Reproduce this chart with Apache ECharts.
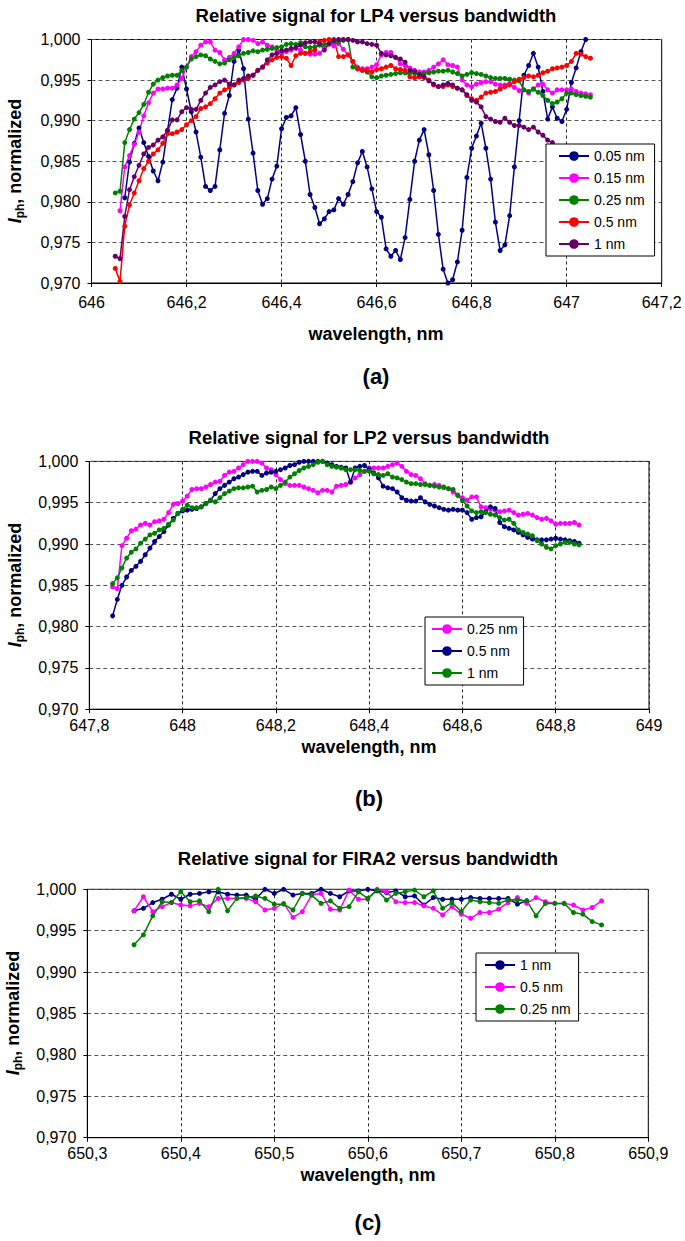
<!DOCTYPE html>
<html><head><meta charset="utf-8">
<script src="https://cdn.jsdelivr.net/npm/echarts@6/dist/echarts.min.js"></script>
<style>html,body{margin:0;padding:0;background:#fff}#c{width:685px;height:1241px}</style>
</head><body><div id="c"></div>
<script>
// ---------- wavelength grids (nm) ----------
const wlA = [646.05,646.06,646.07,646.08,646.09,646.10,646.11,646.12,646.13,646.14,646.15,646.16,646.17,646.18,646.19,646.20,646.21,646.22,646.23,646.24,646.25,646.26,646.27,646.28,646.29,646.30,646.31,646.32,646.33,646.34,646.35,646.36,646.37,646.38,646.39,646.40,646.41,646.42,646.43,646.44,646.45,646.46,646.47,646.48,646.49,646.50,646.51,646.52,646.53,646.54,646.55,646.56,646.57,646.58,646.59,646.60,646.61,646.62,646.63,646.64,646.65,646.66,646.67,646.68,646.69,646.70,646.71,646.72,646.73,646.74,646.75,646.76,646.77,646.78,646.79,646.80,646.81,646.82,646.83,646.84,646.85,646.86,646.87,646.88,646.89,646.90,646.91,646.92,646.93,646.94,646.95,646.96,646.97,646.98,646.99,647.00,647.01,647.02,647.03,647.04,647.05];
const wlB = [647.85,647.86,647.87,647.88,647.89,647.90,647.91,647.92,647.93,647.94,647.95,647.96,647.97,647.98,647.99,648.00,648.01,648.02,648.03,648.04,648.05,648.06,648.07,648.08,648.09,648.10,648.11,648.12,648.13,648.14,648.15,648.16,648.17,648.18,648.19,648.20,648.21,648.22,648.23,648.24,648.25,648.26,648.27,648.28,648.29,648.30,648.31,648.32,648.33,648.34,648.35,648.36,648.37,648.38,648.39,648.40,648.41,648.42,648.43,648.44,648.45,648.46,648.47,648.48,648.49,648.50,648.51,648.52,648.53,648.54,648.55,648.56,648.57,648.58,648.59,648.60,648.61,648.62,648.63,648.64,648.65,648.66,648.67,648.68,648.69,648.70,648.71,648.72,648.73,648.74,648.75,648.76,648.77,648.78,648.79,648.80,648.81,648.82,648.83,648.84,648.85];
const wlC = [650.35,650.36,650.37,650.38,650.39,650.40,650.41,650.42,650.43,650.44,650.45,650.46,650.47,650.48,650.49,650.50,650.51,650.52,650.53,650.54,650.55,650.56,650.57,650.58,650.59,650.60,650.61,650.62,650.63,650.64,650.65,650.66,650.67,650.68,650.69,650.70,650.71,650.72,650.73,650.74,650.75,650.76,650.77,650.78,650.79,650.80,650.81,650.82,650.83,650.84,650.85];

// ---------- panel (a): LP4 ----------
// first index into wlA for each series
const a005Start = 2, a015Start = 1, a025Start = 0, a05Start = 0, a1Start = 0;
const a005 = [0.9805,0.9849,0.9872,0.9891,0.9873,0.9856,0.9838,0.9826,0.9849,0.9888,
0.9926,0.9940,0.9966,0.9939,0.9911,0.9886,0.9855,0.9819,0.9814,0.9819,
0.9864,0.9909,0.9931,0.9973,0.9987,0.9964,0.9902,0.9860,0.9814,0.9797,
0.9804,0.9828,0.9844,0.9890,0.9904,0.9906,0.9916,0.9883,0.9850,0.9809,
0.9793,0.9773,0.9779,0.9788,0.9790,0.9804,0.9797,0.9809,0.9825,0.9848,
0.9862,0.9843,0.9816,0.9788,0.9781,0.9742,0.9733,0.9740,0.9729,0.9756,
0.9803,0.9850,0.9876,0.9889,0.9858,0.9814,0.9760,0.9717,0.9700,0.9704,
0.9726,0.9765,0.9830,0.9866,0.9881,0.9897,0.9866,0.9828,0.9775,0.9740,
0.9747,0.9783,0.9843,0.9900,0.9956,0.9968,0.9983,0.9966,0.9936,0.9902,
0.9917,0.9903,0.9899,0.9914,0.9947,0.9965,0.9985,1.0000];
const a015 = [0.9789,0.9843,0.9857,0.9871,0.9886,0.9906,0.9922,0.9934,0.9939,0.9939,
0.9940,0.9940,0.9944,0.9952,0.9966,0.9979,0.9985,0.9993,0.9997,0.9997,
0.9987,0.9984,0.9975,0.9978,0.9983,0.9991,1.0000,1.0000,0.9999,0.9995,
0.9997,0.9993,0.9991,0.9987,0.9983,0.9985,0.9987,0.9989,0.9987,0.9983,
0.9982,0.9982,0.9983,0.9989,0.9994,0.9992,0.9995,0.9988,0.9981,0.9973,
0.9966,0.9964,0.9964,0.9966,0.9969,0.9981,0.9984,0.9984,0.9978,0.9970,
0.9968,0.9965,0.9962,0.9960,0.9960,0.9962,0.9966,0.9970,0.9975,0.9969,
0.9968,0.9966,0.9950,0.9944,0.9942,0.9945,0.9947,0.9948,0.9948,0.9945,
0.9944,0.9944,0.9946,0.9941,0.9937,0.9938,0.9934,0.9939,0.9944,0.9945,
0.9938,0.9934,0.9938,0.9938,0.9938,0.9939,0.9936,0.9934,0.9933,0.9932];
const a025 = [0.9811,0.9813,0.9873,0.9889,0.9902,0.9910,0.9920,0.9935,0.9945,0.9950,
0.9953,0.9955,0.9956,0.9956,0.9962,0.9966,0.9976,0.9979,0.9981,0.9980,
0.9976,0.9973,0.9970,0.9971,0.9975,0.9978,0.9980,0.9983,0.9984,0.9986,
0.9985,0.9987,0.9988,0.9989,0.9990,0.9991,0.9994,0.9995,0.9994,0.9996,
0.9991,0.9990,0.9991,0.9993,0.9994,0.9995,0.9997,0.9997,0.9999,1.0000,
0.9966,0.9964,0.9962,0.9960,0.9954,0.9953,0.9955,0.9956,0.9957,0.9958,
0.9959,0.9959,0.9959,0.9958,0.9957,0.9958,0.9959,0.9960,0.9961,0.9961,
0.9962,0.9960,0.9958,0.9955,0.9957,0.9959,0.9958,0.9957,0.9955,0.9953,
0.9952,0.9952,0.9952,0.9951,0.9950,0.9949,0.9938,0.9936,0.9939,0.9935,
0.9931,0.9925,0.9921,0.9923,0.9927,0.9934,0.9934,0.9932,0.9931,0.9930,0.9929];
const a05 = [0.9718,0.9702,0.9770,0.9796,0.9811,0.9826,0.9841,0.9850,0.9859,0.9864,
0.9872,0.9884,0.9884,0.9886,0.9889,0.9895,0.9900,0.9905,0.9915,0.9917,
0.9921,0.9927,0.9934,0.9938,0.9941,0.9944,0.9947,0.9950,0.9952,0.9956,
0.9962,0.9966,0.9971,0.9975,0.9978,0.9979,0.9977,0.9968,0.9980,0.9983,
0.9983,0.9985,0.9987,0.9997,0.9999,1.0000,1.0000,0.9979,0.9979,0.9981,
0.9973,0.9964,0.9962,0.9962,0.9960,0.9963,0.9964,0.9966,0.9968,0.9964,
0.9963,0.9962,0.9954,0.9953,0.9954,0.9953,0.9950,0.9944,0.9942,0.9942,
0.9944,0.9942,0.9940,0.9938,0.9931,0.9927,0.9925,0.9929,0.9934,0.9935,
0.9936,0.9939,0.9942,0.9944,0.9948,0.9951,0.9953,0.9955,0.9954,0.9956,
0.9959,0.9961,0.9964,0.9965,0.9966,0.9968,0.9973,0.9983,0.9982,0.9979,0.9977];
const a1 = [0.9733,0.9730,0.9782,0.9815,0.9831,0.9845,0.9859,0.9867,0.9870,0.9876,
0.9880,0.9888,0.9901,0.9901,0.9911,0.9916,0.9914,0.9914,0.9925,0.9934,
0.9941,0.9944,0.9948,0.9950,0.9945,0.9944,0.9950,0.9952,0.9955,0.9956,
0.9962,0.9966,0.9975,0.9981,0.9983,0.9986,0.9987,0.9989,0.9990,0.9993,
0.9996,0.9997,0.9997,0.9995,0.9987,0.9995,0.9999,1.0000,1.0000,1.0000,
0.9999,0.9997,0.9997,0.9995,0.9994,0.9993,0.9983,0.9981,0.9980,0.9978,
0.9976,0.9972,0.9962,0.9961,0.9957,0.9954,0.9949,0.9945,0.9942,0.9944,
0.9946,0.9944,0.9940,0.9938,0.9932,0.9925,0.9923,0.9917,0.9905,0.9902,
0.9899,0.9898,0.9903,0.9898,0.9894,0.9894,0.9892,0.9889,0.9892,0.9886,
0.9882,0.9876,0.9873];

// ---------- panel (b): LP2 ----------
const b025 = [0.9848,0.9846,0.9898,0.9907,0.9916,0.9918,0.9923,0.9925,0.9923,0.9927,
0.9928,0.9930,0.9938,0.9948,0.9949,0.9952,0.9958,0.9966,0.9967,0.9967,
0.9969,0.9972,0.9975,0.9976,0.9983,0.9987,0.9988,0.9992,0.9996,1.0000,
1.0000,1.0000,0.9998,0.9992,0.9990,0.9984,0.9978,0.9973,0.9971,0.9971,
0.9971,0.9969,0.9967,0.9965,0.9962,0.9965,0.9965,0.9963,0.9970,0.9971,
0.9972,0.9975,0.9980,0.9984,0.9988,0.9992,0.9992,0.9992,0.9992,0.9994,
0.9996,0.9998,0.9994,0.9988,0.9984,0.9983,0.9979,0.9973,0.9971,0.9972,
0.9971,0.9968,0.9967,0.9963,0.9959,0.9956,0.9953,0.9957,0.9957,0.9945,
0.9944,0.9942,0.9941,0.9939,0.9940,0.9941,0.9938,0.9935,0.9936,0.9937,
0.9935,0.9932,0.9930,0.9931,0.9928,0.9924,0.9925,0.9925,0.9925,0.9926,0.9923];
const b05 = [0.9813,0.9833,0.9850,0.9860,0.9868,0.9873,0.9879,0.9887,0.9895,0.9903,
0.9909,0.9915,0.9923,0.9931,0.9937,0.9940,0.9941,0.9942,0.9943,0.9945,
0.9949,0.9953,0.9961,0.9967,0.9971,0.9975,0.9979,0.9981,0.9984,0.9987,
0.9988,0.9988,0.9983,0.9986,0.9987,0.9988,0.9990,0.9992,0.9995,0.9996,
0.9999,1.0000,1.0000,1.0000,1.0000,1.0000,0.9998,0.9996,0.9994,0.9993,
0.9992,0.9975,0.9992,0.9994,0.9995,0.9991,0.9986,0.9980,0.9970,0.9968,
0.9967,0.9963,0.9956,0.9953,0.9952,0.9952,0.9956,0.9951,0.9948,0.9946,
0.9944,0.9942,0.9941,0.9942,0.9941,0.9941,0.9938,0.9930,0.9932,0.9933,
0.9939,0.9945,0.9943,0.9926,0.9921,0.9919,0.9917,0.9914,0.9911,0.9908,
0.9906,0.9905,0.9905,0.9905,0.9906,0.9907,0.9906,0.9905,0.9904,0.9903,0.9901];
const b1 = [0.9852,0.9859,0.9871,0.9883,0.9890,0.9894,0.9901,0.9906,0.9911,0.9913,
0.9917,0.9919,0.9924,0.9929,0.9937,0.9942,0.9947,0.9944,0.9944,0.9945,
0.9949,0.9953,0.9951,0.9956,0.9961,0.9964,0.9967,0.9968,0.9968,0.9969,
0.9970,0.9963,0.9965,0.9966,0.9969,0.9967,0.9971,0.9975,0.9981,0.9985,
0.9989,0.9992,0.9994,0.9996,0.9999,1.0000,0.9996,0.9994,0.9993,0.9992,
0.9990,0.9990,0.9990,0.9989,0.9988,0.9988,0.9985,0.9984,0.9983,0.9985,
0.9981,0.9980,0.9978,0.9975,0.9973,0.9973,0.9972,0.9972,0.9971,0.9970,
0.9969,0.9969,0.9967,0.9966,0.9959,0.9953,0.9946,0.9940,0.9938,0.9939,
0.9938,0.9936,0.9935,0.9932,0.9929,0.9930,0.9925,0.9917,0.9914,0.9912,
0.9910,0.9904,0.9900,0.9896,0.9894,0.9898,0.9900,0.9902,0.9902,0.9900,0.9899];

// ---------- panel (c): FIRA2 ----------
const c1 = [0.9974,0.9977,0.9984,0.9988,0.9994,0.9988,0.9994,0.9995,0.9997,0.9997,
0.9994,0.9993,0.9993,0.9988,1.0000,0.9995,1.0000,0.9993,0.9995,0.9995,
1.0000,0.9995,0.9991,0.9998,0.9998,1.0000,0.9998,0.9996,0.9998,0.9991,
0.9992,0.9981,0.9990,0.9988,0.9988,0.9988,0.9990,0.9989,0.9989,0.9989,
0.9989,0.9982,0.9986];
const c05 = [0.9974,0.9991,0.9973,0.9979,0.9984,0.9981,0.9980,0.9983,0.9979,0.9989,
0.9989,0.9989,0.9989,0.9985,0.9975,0.9977,0.9983,0.9966,0.9973,0.9993,
0.9995,0.9976,0.9975,0.9999,0.9988,0.9988,1.0000,0.9997,0.9985,0.9984,
0.9984,0.9980,0.9977,0.9969,0.9979,0.9970,0.9965,0.9972,0.9972,0.9976,
0.9984,0.9990,0.9983,0.9990,0.9985,0.9983,0.9983,0.9981,0.9975,0.9978,0.9986];
const c025 = [0.9933,0.9945,0.9968,0.9985,0.9984,0.9997,0.9985,0.9986,0.9973,1.0000,
0.9974,0.9989,0.9990,0.9992,0.9989,0.9982,0.9982,0.9975,0.9995,0.9993,
0.9983,0.9986,0.9977,0.9979,0.9997,0.9989,0.9999,0.9987,0.9995,0.9997,
0.9999,0.9991,0.9998,0.9977,0.9984,0.9973,0.9987,0.9985,0.9984,0.9983,
0.9987,0.9987,0.9986,0.9968,0.9983,0.9983,0.9983,0.9972,0.9970,0.9961,0.9957];

// ---------- text ----------
const titles = ['Relative signal for LP4 versus bandwidth','Relative signal for LP2 versus bandwidth','Relative signal for FIRA2 versus bandwidth'];
const panelTags = ['(a)','(b)','(c)'];
const xName = 'wavelength, nm';
const legA = ['0.05 nm','0.15 nm','0.25 nm','0.5 nm','1 nm'];
const legB = ['0.25 nm','0.5 nm','1 nm'];
const legC = ['1 nm','0.5 nm','0.25 nm'];

// ---------- build ----------
const NAVY='#000080', MAG='#ff00ff', GRN='#008000', RED='#ff0000', PUR='#660066';
const FONT = '"Liberation Sans", Arial, sans-serif';
const pairs = (wl, vals, start) => vals.map((v, i) => [wl[start + i], v]);

function line(name, gi, color, data) {
  return {type:'line', name, xAxisIndex:gi, yAxisIndex:gi, data,
    symbol:'circle', symbolSize:5, showSymbol:true,
    lineStyle:{color, width:1.5}, itemStyle:{color, borderWidth:0},
    emphasis:{disabled:true}, animation:false};
}
const fmtX = v => { const r = Math.round(v*10)/10; return Number.isInteger(r) ? String(r) : r.toFixed(1).replace('.', ','); };
const fmtY = v => v.toFixed(3).replace('.', ',');
function xAx(gi, min, max, interval, margin) {
  return {type:'value', gridIndex:gi, min, max, interval,
    axisLine:{show:true, onZero:false, lineStyle:{color:'#000', width:1}},
    axisTick:{show:true, inside:false, length:4, lineStyle:{color:'#000'}},
    axisLabel:{color:'#000', fontSize:16, fontFamily:FONT, margin, formatter:fmtX, showMinLabel:true, showMaxLabel:true},
    splitLine:{show:true, lineStyle:{color:'#222', type:[3,3], width:1}}};
}
function yAx(gi) {
  return {type:'value', gridIndex:gi, min:0.97, max:1.0, interval:0.005,
    axisLine:{show:true, onZero:false, lineStyle:{color:'#000', width:1}},
    axisTick:{show:true, inside:false, length:4, lineStyle:{color:'#000'}},
    axisLabel:{color:'#000', fontSize:16, fontFamily:FONT, margin:11, formatter:fmtY, showMinLabel:true, showMaxLabel:true},
    splitLine:{show:true, lineStyle:{color:'#555', type:[4,3], width:1}}};
}
function legend(gi, names, left, top, pad) {
  return {show:true, orient:'vertical', left, top, padding:pad,
    data: names.map(n => gi + ':' + n),
    formatter: n => n.split(':')[1],
    itemWidth:30, itemHeight:12, itemGap:8,
    textStyle:{color:'#000', fontSize:14, fontFamily:FONT},
    backgroundColor:'#fff', borderColor:'#000', borderWidth:1, borderRadius:0,
    selectedMode:false};
}
function txt(x, y, text, size, weight) {
  return {type:'text', x, y, silent:true, style:{text, x:0, y:0, align:'center', verticalAlign:'middle',
    font: (weight||'bold') + ' ' + size + 'px ' + FONT, fill:'#000'}};
}
function yName(x, y) {
  return {type:'text', x, y, rotation:Math.PI/2, silent:true,
    style:{text:'{i|I}{s|ph}{n|, normalized}', x:0, y:0, align:'center', verticalAlign:'middle', fill:'#000',
      rich:{i:{fontFamily:FONT, fontSize:18, fontWeight:'bold', fontStyle:'italic', lineHeight:22},
            s:{fontFamily:FONT, fontSize:12, fontWeight:'bold', verticalAlign:'bottom', lineHeight:22},
            n:{fontFamily:FONT, fontSize:18, fontWeight:'bold', lineHeight:22}}}};
}

const series = [
  line('0:0.05 nm', 0, NAVY, pairs(wlA, a005, a005Start)),
  line('0:0.15 nm', 0, MAG, pairs(wlA, a015, a015Start)),
  line('0:0.25 nm', 0, GRN, pairs(wlA, a025, a025Start)),
  line('0:0.5 nm', 0, RED, pairs(wlA, a05, a05Start)),
  line('0:1 nm', 0, PUR, pairs(wlA, a1, a1Start)),
  line('1:0.25 nm', 1, MAG, pairs(wlB, b025, 0)),
  line('1:0.5 nm', 1, NAVY, pairs(wlB, b05, 0)),
  line('1:1 nm', 1, GRN, pairs(wlB, b1, 0)),
  line('2:1 nm', 2, NAVY, pairs(wlC, c1, 0)),
  line('2:0.5 nm', 2, MAG, pairs(wlC, c05, 0)),
  line('2:0.25 nm', 2, GRN, pairs(wlC, c025, 0))
];

const chart = echarts.init(document.getElementById('c'), null, {renderer:'svg', width:685, height:1241});
chart.setOption({
  animation:false,
  backgroundColor:'#fff',
  grid:[
    {left:91.5, top:39.5, width:570.2, height:243.5, show:true, borderColor:'#000', borderWidth:1, backgroundColor:'transparent'},
    {left:89.3, top:461.4, width:559.7, height:247.8, show:true, borderColor:'#000', borderWidth:1, backgroundColor:'transparent'},
    {left:87.3, top:889.3, width:561, height:248.4, show:true, borderColor:'#000', borderWidth:1, backgroundColor:'transparent'}
  ],
  xAxis:[xAx(0, 646, 647.2, 0.2, 11), xAx(1, 647.8, 649, 0.2, 8), xAx(2, 650.3, 650.9, 0.1, 8)],
  yAxis:[yAx(0), yAx(1), yAx(2)],
  legend:[
    legend(0, legA, 546, 144, [5,10,5,12]),
    legend(1, legB, 425, 617, [5,6,5,6]),
    legend(2, legC, 476, 953, [5,8,5,8])
  ],
  graphic:[
    txt(376, 15, titles[0], 18.5), txt(369, 437, titles[1], 18.5), txt(368, 858, titles[2], 18.5),
    txt(376, 334, xName, 18), txt(369, 747, xName, 18), txt(368, 1175, xName, 18),
    txt(376, 376, panelTags[0], 22), txt(369, 798, panelTags[1], 22), txt(368, 1222, panelTags[2], 22),
    yName(15, 161), yName(15, 585), yName(13, 1013)
  ],
  series
});
</script></body></html>
